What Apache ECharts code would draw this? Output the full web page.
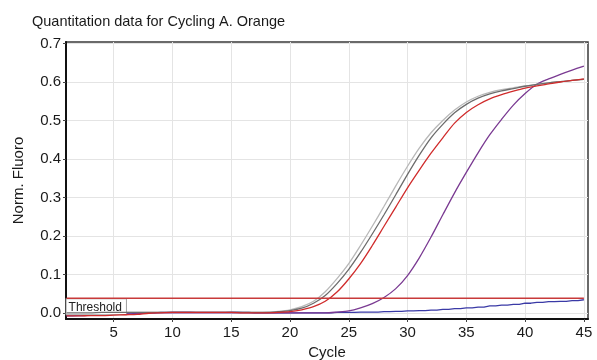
<!DOCTYPE html>
<html>
<head>
<meta charset="utf-8">
<script src="https://cdn.jsdelivr.net/npm/echarts@6/dist/echarts.min.js"></script>
<style>
html,body{margin:0;padding:0;background:#fff;}
#c{width:597px;height:360px;}
</style>
</head>
<body>
<div id="c"></div>
<script>
var titleText = 'Quantitation data for Cycling A. Orange';
var cycles = [1,2,3,4,5,6,7,8,9,10,11,12,13,14,15,16,17,18,19,20,21,22,23,24,25,26,27,28,29,30,31,32,33,34,35,36,37,38,39,40,41,42,43,44,45];
var xTicks = [5,10,15,20,25,30,35,40,45];
var yTicks = [0,0.1,0.2,0.3,0.4,0.5,0.6,0.7];
var thresholdValue = 0.038;

var sampleLightGray = [0.000,0.000,0.001,0.001,0.001,0.001,0.001,0.001,0.001,0.001,0.001,0.001,0.001,0.001,0.001,0.001,0.001,0.002,0.004,0.008,0.016,0.030,0.055,0.089,0.128,0.175,0.225,0.277,0.330,0.381,0.428,0.468,0.500,0.527,0.548,0.563,0.573,0.580,0.585,0.590,0.594,0.598,0.601,0.604,0.607];
var sampleDarkGray = [0.000,0.000,0.000,0.001,0.001,0.001,0.001,0.001,0.001,0.001,0.001,0.001,0.001,0.001,0.001,0.001,0.001,0.001,0.003,0.006,0.012,0.025,0.045,0.076,0.113,0.157,0.205,0.255,0.307,0.360,0.410,0.455,0.490,0.520,0.542,0.558,0.569,0.577,0.583,0.589,0.594,0.598,0.601,0.604,0.607];
var sampleRed = [-0.008,-0.008,-0.007,-0.007,-0.006,-0.005,-0.004,-0.001,0.000,0.001,0.001,0.001,0.001,0.001,0.001,0.000,0.000,0.000,0.001,0.003,0.008,0.016,0.030,0.054,0.088,0.128,0.175,0.225,0.275,0.325,0.371,0.415,0.455,0.493,0.521,0.541,0.556,0.567,0.576,0.584,0.590,0.595,0.600,0.604,0.608];
var samplePurple = [-0.006,-0.006,-0.005,-0.005,-0.004,-0.003,-0.002,0.000,0.000,0.000,0.000,0.000,0.000,0.000,0.000,0.000,0.000,0.000,0.000,0.000,0.000,0.000,0.000,0.002,0.005,0.013,0.024,0.040,0.063,0.097,0.143,0.197,0.255,0.312,0.365,0.416,0.463,0.503,0.540,0.570,0.594,0.608,0.620,0.631,0.641];
var sampleBlue = [-0.008,-0.007,-0.006,-0.005,-0.004,-0.003,-0.001,0.000,0.001,0.002,0.002,0.001,0.001,0.001,0.002,0.001,0.000,0.000,0.000,0.000,0.000,0.000,0.000,0.001,0.001,0.002,0.002,0.003,0.004,0.005,0.006,0.007,0.009,0.011,0.013,0.015,0.018,0.020,0.022,0.025,0.027,0.029,0.030,0.032,0.034];

function pairs(arr){ return cycles.map(function(c,i){ return [c, arr[i]]; }); }

var FONT = '"Liberation Sans", Arial, sans-serif';
var chart = echarts.init(document.getElementById('c'), null, {renderer:'canvas'});

function lineSeries(name, data, color, z, step){
  return {
    name: name, type: 'line', data: pairs(data), showSymbol: false, symbol: 'none',
    step: step || false,
    smooth: step ? false : 0.3,
    lineStyle: {color: color, width: 1.3}, z: z, animation: false, silent: true
  };
}

chart.setOption({
  animation: false,
  title: {
    text: titleText, left: 27, top: 9,
    textStyle: {fontFamily: FONT, fontSize: 14.5, fontWeight: 'normal', color: '#1a1a1a'}
  },
  grid: {
    left: 66, right: 9, top: 42, bottom: 41,
    outerBoundsMode: 'none', containLabel: false,
    show: true, borderColor: '#3a3a3a', borderWidth: 1.5, backgroundColor: '#fff'
  },
  xAxis: {
    type: 'value', min: 0.95, max: 45.35,
    name: 'Cycle', nameLocation: 'middle', nameGap: 25,
    nameTextStyle: {fontFamily: FONT, fontSize: 15, color: '#1a1a1a'},
    axisLine: {show: true, onZero: false, lineStyle: {color: '#111', width: 2}},
    axisTick: {show: true, length: 3, customValues: xTicks, lineStyle: {color: '#444'}},
    axisLabel: {customValues: xTicks, margin: 6, fontFamily: FONT, fontSize: 15, color: '#1a1a1a'},
    splitLine: {show: true, lineStyle: {color: '#e4e4e4', width: 1}}
  },
  yAxis: {
    type: 'value', min: -0.016, max: 0.704,
    name: 'Norm. Fluoro', nameLocation: 'middle', nameGap: 40, nameRotate: 90,
    nameTextStyle: {fontFamily: FONT, fontSize: 15, color: '#1a1a1a'},
    axisLine: {show: true, onZero: false, lineStyle: {color: '#111', width: 2}},
    axisTick: {show: true, length: 3, customValues: yTicks, lineStyle: {color: '#444'}},
    axisLabel: {customValues: yTicks, margin: 5, fontFamily: FONT, fontSize: 15, color: '#1a1a1a',
      formatter: function(v){ return v.toFixed(1); }},
    splitLine: {show: true, lineStyle: {color: '#e4e4e4', width: 1}}
  },
  series: [
    lineSeries('Blue', sampleBlue, '#3a3aa6', 2, 'middle'),
    lineSeries('Purple', samplePurple, '#7a3a92', 3),
    lineSeries('LightGray', sampleLightGray, '#b8b8b8', 4),
    lineSeries('DarkGray', sampleDarkGray, '#6c6c6c', 5),
    lineSeries('Red', sampleRed, '#d02c2c', 6),
    {
      name: 'Threshold', type: 'line', data: pairs(cycles.map(function(){ return thresholdValue; })),
      showSymbol: false, symbol: 'none',
      lineStyle: {color: '#c83a3a', width: 1.5}, z: 10, animation: false, silent: true,
      markPoint: {
        silent: true, animation: false,
        symbol: 'rect', symbolSize: 0.01,
        itemStyle: {color: 'transparent'},
        data: [{coord: [cycles[0], thresholdValue]}],
        label: {
          show: true, formatter: 'Threshold', position: [0, 1], align: 'left', verticalAlign: 'top',
          color: '#222', fontSize: 12, fontFamily: FONT,
          backgroundColor: '#fff', borderColor: '#a0a0a0', borderWidth: 1, padding: [2, 4, 1, 2]
        }
      }
    }
  ]
});
</script>
</body>
</html>
